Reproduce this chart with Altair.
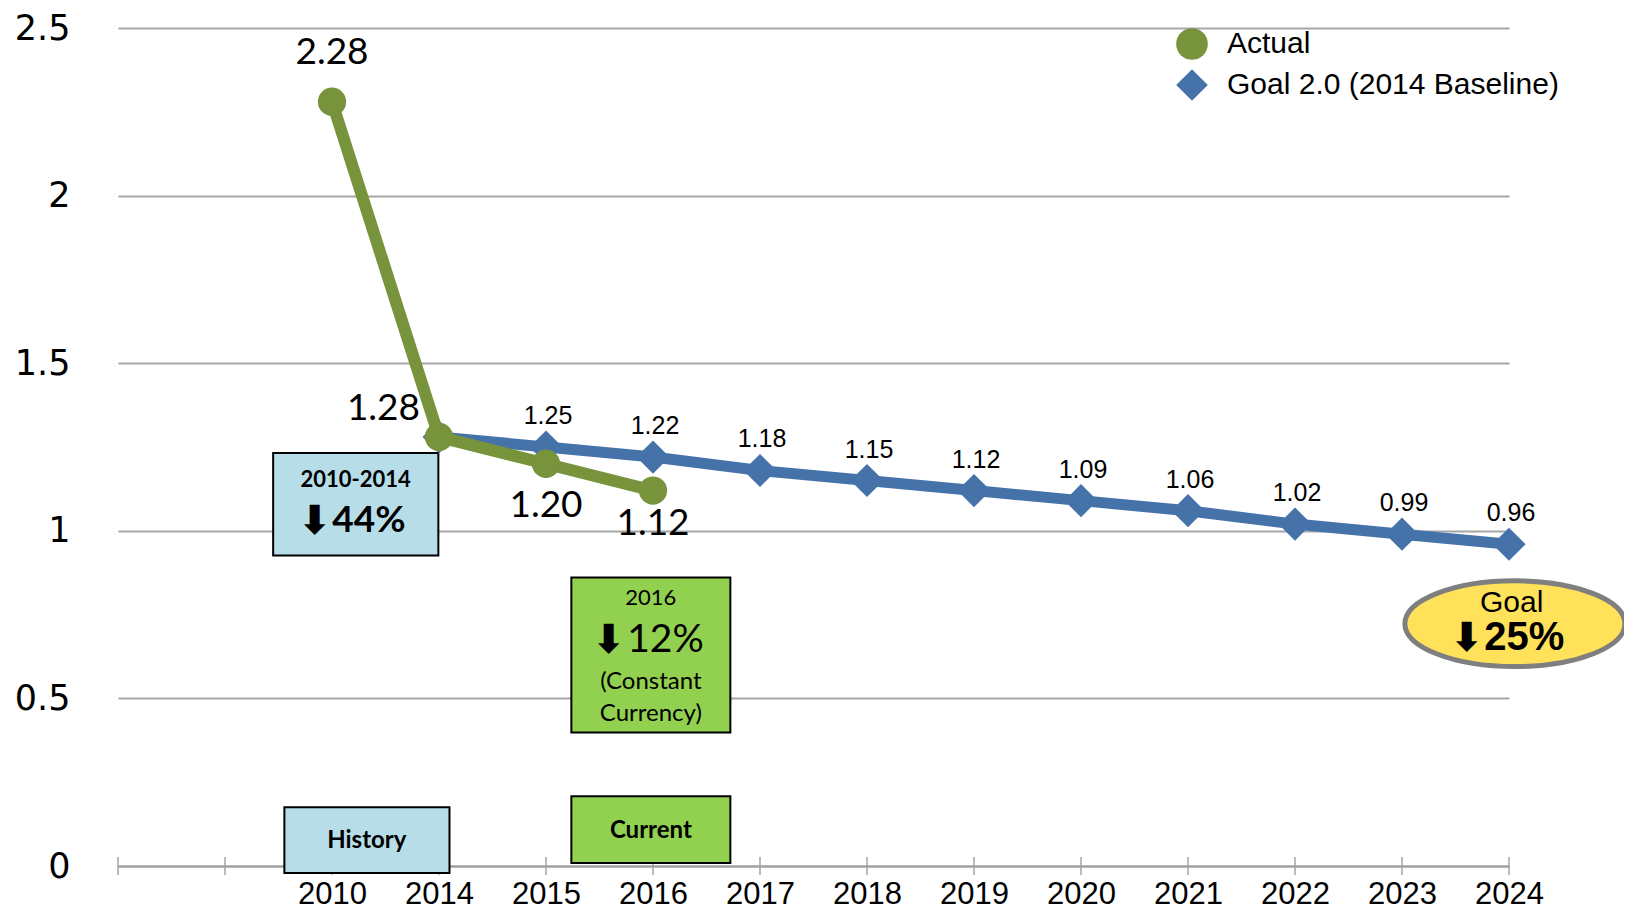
import json
import altair as alt
import pandas as pd

# ---------------- data ----------------
categories = ["", "", "2010", "2014", "2015", "2016", "2017", "2018",
              "2019", "2020", "2021", "2022", "2023", "2024"]
series_names = ["Actual", "Goal 2.0 (2014 Baseline)"]

actual_years = ["2010", "2014", "2015", "2016"]
actual_values = [2.28, 1.28, 1.20, 1.12]

goal_years = ["2014", "2015", "2016", "2017", "2018", "2019", "2020",
              "2021", "2022", "2023", "2024"]
goal_values = [1.28, 1.25, 1.22, 1.18, 1.15, 1.12, 1.09, 1.06, 1.02, 0.99, 0.96]

y_ticks = [0, 0.5, 1, 1.5, 2, 2.5]

# annotation boxes (data coordinates: category index, value)
box_x1 = [1.45, 1.555, 4.237, 4.237]
box_x2 = [2.994, 3.098, 5.723, 5.723]
box_y1 = [1.232, 0.175, 0.861, 0.208]
box_y2 = [0.926, -0.021, 0.398, 0.009]
box_fill = ["#B7DEE8", "#B7DEE8", "#92D050", "#92D050"]

bold_text = ["2010-2014", "History", "Current"]
bold_x = [2.22, 2.325, 4.98]
bold_y = [1.152, 0.074, 0.104]
bold_size = [22, 24, 24]

reg_text = ["2016", "(Constant", "Currency)"]
reg_x = [4.98, 4.98, 4.98]
reg_y = [0.800, 0.549, 0.454]
reg_size = [22, 24, 24]

# "↓ xx%" callouts: arrow + percentage
pct_text = ["44%", "12%", "25%"]
pct_x = [1.994, 4.74, 12.76]
pct_y = [1.030, 0.674, 0.680]

goal_badge_x = [13.055]
goal_badge_y = [0.723]
goal_badge_title = ["Goal"]
goal_badge_title_y = [0.786]

# ---------------- styling ----------------
GREEN = "#77933C"
BLUE = "#4672AA"
GRID = "#A6A6A6"
ARIAL = "Liberation Sans"

n = len(categories)
x_scale = alt.Scale(domain=[0, n - 1], nice=False, zero=False)
y_scale = alt.Scale(domain=[0, 2.5], nice=False, zero=False)
color_scale = alt.Scale(domain=series_names, range=[GREEN, BLUE])
shape_scale = alt.Scale(domain=series_names, range=["circle", "diamond"])

label_expr = json.dumps(categories) + "[datum.value]"

x_axis = alt.Axis(
    values=list(range(n)), labelExpr=label_expr, ticks=False, grid=False,
    domainColor="#A0A0A0", domainWidth=2, labelFont=ARIAL, labelFontSize=31,
    labelColor="black", labelPadding=13, labelFlush=False, labelOverlap=False,
    labelBound=False, title=None)
y_axis = alt.Axis(
    values=y_ticks, format="~g", ticks=False, domain=False, grid=True,
    gridColor=GRID, gridWidth=2, labelFont="DejaVu Sans", labelFontSize=35,
    labelColor="black", labelPadding=48, title=None)


def X(f="x"):
    return alt.X(f + ":Q", scale=x_scale, axis=x_axis, title=None)


def Y(f="v"):
    return alt.Y(f + ":Q", scale=y_scale, axis=y_axis, title=None)


def idx(y):
    return categories.index(y)


actual = pd.DataFrame({"x": [idx(y) for y in actual_years], "year": actual_years,
                       "v": actual_values, "series": series_names[0]})
goal = pd.DataFrame({"x": [idx(y) for y in goal_years], "year": goal_years,
                     "v": goal_values, "series": series_names[1]})

axis_df = pd.DataFrame({"x": list(range(n)), "y0": [0] * n})

tick_layer = alt.Chart(axis_df).mark_tick(
    orient="vertical", size=18, thickness=2, color="#A0A0A0"
).encode(x=X(), y=Y("y0"))

# boxes
boxes_df = pd.DataFrame({"x1": box_x1, "x2": box_x2, "y1": box_y1, "y2": box_y2, "fill": box_fill})
boxes = alt.Chart(boxes_df).mark_rect(stroke="black", strokeWidth=2).encode(
    x=X("x1"), x2="x2:Q", y=Y("y1"), y2="y2:Q",
    fill=alt.Fill("fill:N", scale=None),
)

bold_df = pd.DataFrame({"t": bold_text, "x": bold_x, "y": bold_y, "s": bold_size})
bold_layer = alt.Chart(bold_df).mark_text(font="Lato", fontWeight="bold", color="black",
                                           baseline="middle", align="center").encode(
    x=X(), y=Y("y"), text="t:N", size=alt.Size("s:Q", scale=None))

reg_df = pd.DataFrame({"t": reg_text, "x": reg_x, "y": reg_y, "s": reg_size})
reg_layer = alt.Chart(reg_df).mark_text(font="Lato", color="black",
                                         baseline="middle", align="center").encode(
    x=X(), y=Y("y"), text="t:N", size=alt.Size("s:Q", scale=None))

# goal ellipse
ellipse_df = pd.DataFrame({"x": goal_badge_x, "y": goal_badge_y})
ellipse = alt.Chart(ellipse_df).mark_point(
    shape="M-1,0 A1,0.39 0 1,1 1,0 A1,0.39 0 1,1 -1,0 Z",
    size=48400, filled=True, fill="#FFE15A", stroke="#7F7F7F", strokeWidth=5, opacity=1
).encode(x=X(), y=Y("y"))

badge_df = pd.DataFrame({"t": goal_badge_title, "x": [goal_badge_x[0] - 0.03],
                         "y": goal_badge_title_y})
badge_title = alt.Chart(badge_df).mark_text(
    font=ARIAL, fontSize=30, color="black", baseline="middle").encode(
    x=X(), y=Y("y"), text="t:N")

# arrows + percentages
pct_df = pd.DataFrame({"t": pct_text, "x": pct_x, "y": pct_y,
                       "arrow": ["⬇", "⬇", "⬇"], "k": ["a", "b", "c"]})
arrows = alt.Chart(pct_df).mark_text(
    font="DejaVu Sans", fontWeight="bold", fontSize=40, color="black",
    baseline="middle", align="right", dy=1
).encode(x=X(), y=Y("y"), text="arrow:N")
pct_a = alt.Chart(pct_df).transform_filter("datum.k == 'a'").mark_text(
    font="Lato", fontWeight="bold", fontSize=37, color="black", baseline="middle",
    align="left", dx=1).encode(x=X(), y=Y("y"), text="t:N")
pct_b = alt.Chart(pct_df).transform_filter("datum.k == 'b'").mark_text(
    font="Lato", fontSize=39, color="black", baseline="middle",
    align="left", dx=2).encode(x=X(), y=Y("y"), text="t:N")
pct_c = alt.Chart(pct_df).transform_filter("datum.k == 'c'").mark_text(
    font=ARIAL, fontWeight="bold", fontSize=40, color="black", baseline="middle",
    align="left", dx=1).encode(x=X(), y=Y("y"), text="t:N")

# series
goal_line = alt.Chart(goal).mark_line(color=BLUE, strokeWidth=11).encode(x=X(), y=Y())
goal_pts = alt.Chart(goal).mark_point(filled=True, opacity=1, size=1100).encode(
    x=X(), y=Y(),
    color=alt.Color("series:N", scale=color_scale, legend=alt.Legend(title=None)),
    shape=alt.Shape("series:N", scale=shape_scale, legend=alt.Legend(title=None)),
)
actual_line = alt.Chart(actual).mark_line(color=GREEN, strokeWidth=12).encode(x=X(), y=Y())
actual_pts = alt.Chart(actual).mark_point(filled=True, opacity=1, size=800).encode(
    x=X(), y=Y(),
    color=alt.Color("series:N", scale=color_scale, legend=alt.Legend(title=None)),
    shape=alt.Shape("series:N", scale=shape_scale, legend=alt.Legend(title=None)),
)

goal_labels = alt.Chart(goal).transform_filter("datum.year != '2014'").mark_text(
    font=ARIAL, fontSize=25, color="black", baseline="middle", dy=-31, dx=2
).encode(x=X(), y=Y(), text=alt.Text("v:Q", format=".2f"))


def actual_label(year, **kw):
    return alt.Chart(actual).transform_filter(f"datum.year == '{year}'").mark_text(
        font="Lato", fontSize=37, color="black", baseline="middle", **kw
    ).encode(x=X(), y=Y(), text=alt.Text("v:Q", format=".2f"))


lab_2010 = actual_label("2010", dy=-49)
lab_2014 = actual_label("2014", dx=-19, dy=-28, align="right")
lab_2015 = actual_label("2015", dy=42)
lab_2016 = actual_label("2016", dy=33)

chart = alt.layer(
    tick_layer, boxes, bold_layer, reg_layer, ellipse, badge_title,
    arrows, pct_a, pct_b, pct_c,
    goal_line, goal_pts, actual_line, actual_pts,
    goal_labels, lab_2010, lab_2014, lab_2015, lab_2016,
).properties(
    width=1391, height=838,
    padding={"left": 110, "top": 20, "right": 115, "bottom": 46},
    autosize=alt.AutoSizeParams(type="none"),
    background="white",
).configure_view(stroke=None).configure_legend(
    orient="none", legendX=1058, legendY=0, labelFont=ARIAL, labelFontSize=30,
    labelColor="black", symbolSize=1000, symbolStrokeWidth=0, labelOffset=19,
    rowPadding=9, padding=0, symbolOpacity=1, labelLimit=0,
)

chart.save("out.html", embed_options={"renderer": "svg", "actions": False})
